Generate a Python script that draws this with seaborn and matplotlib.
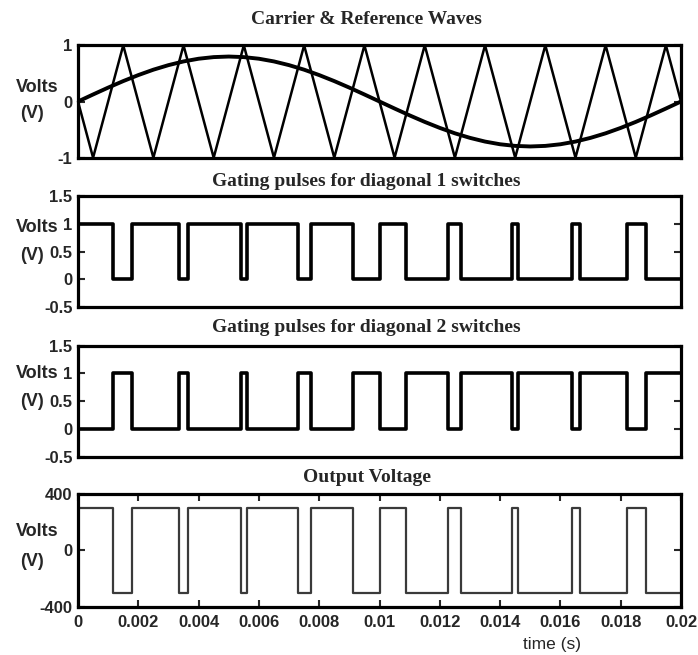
import matplotlib
matplotlib.use("Agg")
import matplotlib.pyplot as plt
from matplotlib import font_manager
import seaborn as sns
import pandas as pd

# ---------------- data ----------------
carrier_t = [0, 0.0005, 0.0015, 0.0025, 0.0035, 0.0045, 0.0055, 0.0065, 0.0075,
             0.0085, 0.0095, 0.0105, 0.0115, 0.0125, 0.0135, 0.0145, 0.0155,
             0.0165, 0.0175, 0.0185, 0.0195, 0.02]
carrier_v = [0, -1, 1, -1, 1, -1, 1, -1, 1, -1, 1, -1, 1, -1, 1, -1, 1, -1, 1, -1, 1, 0]

ref_t = [0, 0.0005, 0.001, 0.0015, 0.002, 0.0025, 0.003, 0.0035, 0.004, 0.0045,
         0.005, 0.0055, 0.006, 0.0065, 0.007, 0.0075, 0.008, 0.0085, 0.009, 0.0095,
         0.01, 0.0105, 0.011, 0.0115, 0.012, 0.0125, 0.013, 0.0135, 0.014, 0.0145,
         0.015, 0.0155, 0.016, 0.0165, 0.017, 0.0175, 0.018, 0.0185, 0.019, 0.0195, 0.02]
ref_v = [0, 0.125, 0.247, 0.363, 0.470, 0.566, 0.647, 0.713, 0.761, 0.790,
         0.800, 0.790, 0.761, 0.713, 0.647, 0.566, 0.470, 0.363, 0.247, 0.125,
         0, -0.125, -0.247, -0.363, -0.470, -0.566, -0.647, -0.713, -0.761, -0.790,
         -0.800, -0.790, -0.761, -0.713, -0.647, -0.566, -0.470, -0.363, -0.247, -0.125, 0]

edge_t = [0, 0.00115, 0.00178, 0.00335, 0.00364, 0.00540, 0.00561, 0.00730, 0.00774,
          0.00911, 0.01000, 0.01089, 0.01226, 0.01270, 0.01441, 0.01460, 0.01640,
          0.01665, 0.01821, 0.01885, 0.02]
gate1_v = [1, 0, 1, 0, 1, 0, 1, 0, 1, 0, 1, 0, 1, 0, 1, 0, 1, 0, 1, 0, 0]
gate2_v = [0, 1, 0, 1, 0, 1, 0, 1, 0, 1, 0, 1, 0, 1, 0, 1, 0, 1, 0, 1, 1]
vout_v = [300, -300, 300, -300, 300, -300, 300, -300, 300, -300, 300, -300, 300,
          -300, 300, -300, 300, -300, 300, -300, -300]

titles = ["Carrier & Reference Waves", "Gating pulses for diagonal 1 switches",
          "Gating pulses for diagonal 2 switches", "Output Voltage"]
yticks_list = [[-1, 0, 1], [-0.5, 0, 0.5, 1, 1.5], [-0.5, 0, 0.5, 1, 1.5], [-400, 0, 400]]
ytick_labels = [["-1", "0", "1"], ["-0.5", "0", "0.5", "1", "1.5"],
                ["-0.5", "0", "0.5", "1", "1.5"], ["-400", "0", "400"]]
ylims = [(-1, 1), (-0.5, 1.5), (-0.5, 1.5), (-400, 400)]
xticks = [0, 0.002, 0.004, 0.006, 0.008, 0.01, 0.012, 0.014, 0.016, 0.018, 0.02]
xtick_labels = ["0", "0.002", "0.004", "0.006", "0.008", "0.01", "0.012", "0.014",
                "0.016", "0.018", "0.02"]

# ---------------- fonts ----------------
names = {f.name for f in font_manager.fontManager.ttflist}
sans = "Liberation Sans Narrow" if "Liberation Sans Narrow" in names else "Liberation Sans"
serif = "Liberation Serif"

sns.set_style("white")
plt.rcParams["font.family"] = [sans, "DejaVu Sans"]

W, H = 698, 655
fig = plt.figure(figsize=(W / 100, H / 100), dpi=100)

# panel pixel boxes (top, bottom)
boxes = [(45.3, 157.7), (196, 307), (345.7, 456.7), (494, 606.7)]
left_px, right_px = 78, 681
title_y = [20, 181, 327, 477]

axes = []
for i, (top, bot) in enumerate(boxes):
    ax = fig.add_axes([left_px / W, 1 - bot / H, (right_px - left_px) / W, (bot - top) / H])
    axes.append(ax)

# panel 1: carrier and reference
sns.lineplot(x=carrier_t, y=carrier_v, ax=axes[0], color="black", linewidth=1.8,
             estimator=None, sort=False, clip_on=False)
sns.lineplot(x=ref_t, y=ref_v, ax=axes[0], color="black", linewidth=2.8,
             estimator=None, sort=False)

df = pd.DataFrame({"t": edge_t, "g1": gate1_v, "g2": gate2_v, "vo": vout_v})
sns.lineplot(data=df, x="t", y="g1", ax=axes[1], color="black", linewidth=2.6,
             drawstyle="steps-post", estimator=None, sort=False)
sns.lineplot(data=df, x="t", y="g2", ax=axes[2], color="black", linewidth=2.6,
             drawstyle="steps-post", estimator=None, sort=False)
sns.lineplot(data=df, x="t", y="vo", ax=axes[3], color="#3a3a3a", linewidth=1.6,
             drawstyle="steps-post", estimator=None, sort=False)

tick_font = dict(family=[sans, "DejaVu Sans"], weight="bold", size=12)
for i, ax in enumerate(axes):
    ax.set_xlim(0, 0.02)
    ax.set_ylim(*ylims[i])
    ax.set_xlabel("")
    ax.set_ylabel("")
    ax.set_yticks(yticks_list[i])
    ax.set_yticklabels(ytick_labels[i], fontdict=tick_font)
    for s in ax.spines.values():
        s.set_linewidth(2.3)
        s.set_color("black")
        s.set_visible(True)
    ax.tick_params(axis="y", direction="in", left=True, right=True, length=5,
                   width=1.5, pad=4)
    if i < 3:
        ax.set_xticks([])
    else:
        ax.set_xticks(xticks)
        ax.set_xticklabels(xtick_labels, fontdict=tick_font)
        ax.tick_params(axis="x", direction="in", bottom=True, top=True, length=5,
                       width=1.5, pad=6)
    fig.text(366.7 / W, 1 - title_y[i] / H, titles[i], ha="center", va="center",
             fontsize=14, fontweight="bold", family=serif)

# "Volts (V)" labels
volts_y = [(88, 114), (228, 255), (374, 402), (532, 561)]
for vy, py in volts_y:
    fig.text(37 / W, 1 - vy / H, "Volts", ha="center", va="center",
             fontsize=13, fontweight="bold", family=[sans, "DejaVu Sans"])
    fig.text(32 / W, 1 - py / H, "(V)", ha="center", va="center",
             fontsize=13, fontweight="bold", family=[sans, "DejaVu Sans"])

fig.text(552 / W, 1 - 645 / H, "time (s)", ha="center", va="center",
         fontsize=12.5, family=[sans, "DejaVu Sans"])

fig.savefig("out.png", dpi=100, facecolor="white")
